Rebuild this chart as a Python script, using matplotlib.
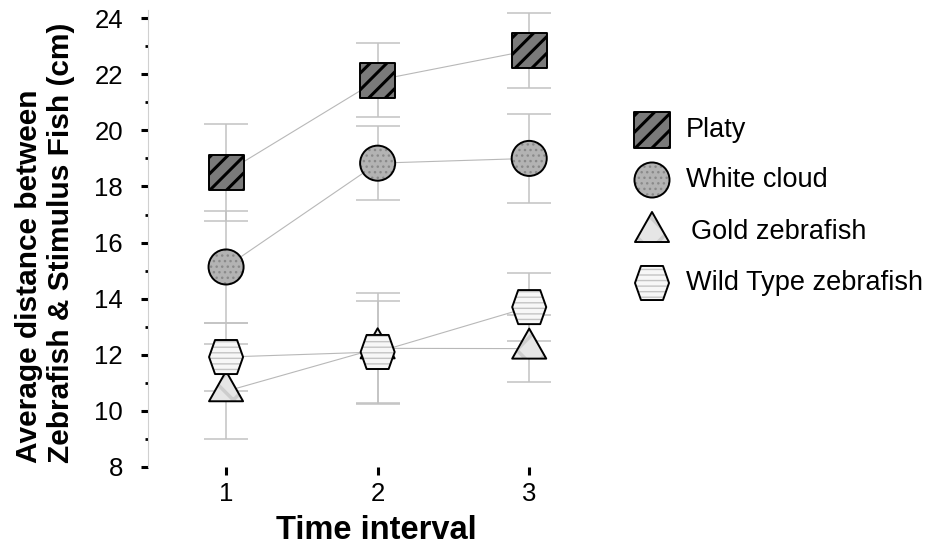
import numpy as np
import matplotlib
matplotlib.use("Agg")
import matplotlib.pyplot as plt
from matplotlib.path import Path
from matplotlib.ticker import MultipleLocator

plt.rcParams['font.family'] = ['Liberation Sans', 'DejaVu Sans']

# values
intervals = [1, 2, 3]
platy = [18.5, 21.79, 22.85]
platy_err = [1.72, 1.32, 1.35]
white_cloud = [15.13, 18.83, 19.0]
white_cloud_err = [2.0, 1.33, 1.6]
gold_zf = [10.7, 12.23, 12.22]
gold_zf_err = [1.7, 1.97, 1.2]
wild_zf = [11.92, 12.1, 13.7]
wild_zf_err = [1.21, 1.82, 1.22]
labels = ["Platy", "White cloud", "Gold zebrafish", "Wild Type zebrafish"]


def closed(pts):
    pts = list(pts) + [pts[0]]
    codes = [Path.MOVETO] + [Path.LINETO] * (len(pts) - 2) + [Path.CLOSEPOLY]
    return Path(pts, codes)


# marker shapes (triangle centred on its centroid, flat-topped hexagon)
tri = closed([(0, 20), (-17, -10), (17, -10)])
hexa = closed([(-17, 0), (-11, 17), (11, 17), (17, 0), (11, -17), (-11, -17)])

k = 0.52  # px^2 -> pt^2
styles = [
    dict(marker='s', s=35 ** 2 * k, fc='#7a7a7a', hatch='//', hc='#000000', hlw=2.2),
    dict(marker='o', s=35 ** 2 * k, fc='#b3b3b3', hatch='...', hc='#8a8a8a', hlw=1.0),
    dict(marker=tri, s=40 ** 2 * k, fc='#e6e6e6', hatch='x', hc='#cdcdcd', hlw=2.5),
    dict(marker=hexa, s=34 ** 2 * k, fc='#f7f7f7', hatch='---', hc='#c4c4c4', hlw=1.0),
]

fig = plt.figure(figsize=(9.34, 5.5), dpi=100)
ax = fig.add_axes([148 / 934, 1 - 467 / 550, (605 - 148) / 934, (467 - 10) / 550])

series = [(platy, platy_err), (white_cloud, white_cloud_err),
          (gold_zf, gold_zf_err), (wild_zf, wild_zf_err)]

for (vals, errs) in series:
    ax.errorbar(intervals, vals, yerr=errs, fmt='none', ecolor='#c2c2c2',
                elinewidth=1.1, capsize=16, capthick=1.1, zorder=1)
for (vals, errs) in series:
    ax.plot(intervals, vals, color='#b8b8b8', lw=0.8, zorder=2)


def draw_marker(target, x, y, st, z):
    # filled + hatched body (hatch takes the edge colour), then black outline
    with plt.rc_context({'hatch.color': st['hc'], 'hatch.linewidth': st['hlw']}):
        target.scatter(x, y, marker=st['marker'], s=st['s'], facecolor=st['fc'],
                       edgecolor=st['hc'], linewidths=0, hatch=st['hatch'],
                       zorder=z, clip_on=False)
    target.scatter(x, y, marker=st['marker'], s=st['s'], facecolor='none',
                   edgecolor='black', linewidths=1.4, zorder=z + 0.01, clip_on=False)


for i, st in enumerate(styles):
    vals = series[i][0]
    draw_marker(ax, intervals, vals, st, 3 + i)

ax.set_xlim(0.485, 3.5)
ax.set_ylim(8, 24.29)
ax.set_xticks(intervals)
ax.set_yticks(np.arange(8, 25, 2))
ax.yaxis.set_minor_locator(MultipleLocator(1))
for side in ['top', 'right', 'bottom']:
    ax.spines[side].set_visible(False)
ax.spines['left'].set_color('#d0d0d0')
ax.spines['left'].set_linewidth(0.8)
ax.tick_params(axis='y', which='major', length=5, width=2.2, color='black',
               labelsize=18.5, pad=13)
ax.tick_params(axis='y', which='minor', length=2.5, width=2.0, color='black')
ax.tick_params(axis='x', which='major', length=6, width=2.2, color='black',
               labelsize=18.5, pad=5)
ax.set_xlabel("Time interval", fontsize=23.5, fontweight='bold', labelpad=6)

fig.text(15 / 934, 1 - 463 / 550,
         "Average distance between\nZebrafish & Stimulus Fish (cm)",
         rotation=90, ha='left', va='bottom', multialignment='left',
         fontsize=21.5, fontweight='bold')

# legend drawn by hand
lax = fig.add_axes([0, 0, 1, 1], facecolor='none')
lax.set_xlim(0, 934)
lax.set_ylim(550, 0)
lax.axis('off')
leg_y = [130, 180, 232, 283]
leg_tx = [686, 686, 691, 686]
for i, st in enumerate(styles):
    draw_marker(lax, [652], [leg_y[i]], st, 3)
    lax.text(leg_tx[i], leg_y[i], labels[i], fontsize=19.5, va='center', ha='left')

fig.savefig("out.png", dpi=100)
